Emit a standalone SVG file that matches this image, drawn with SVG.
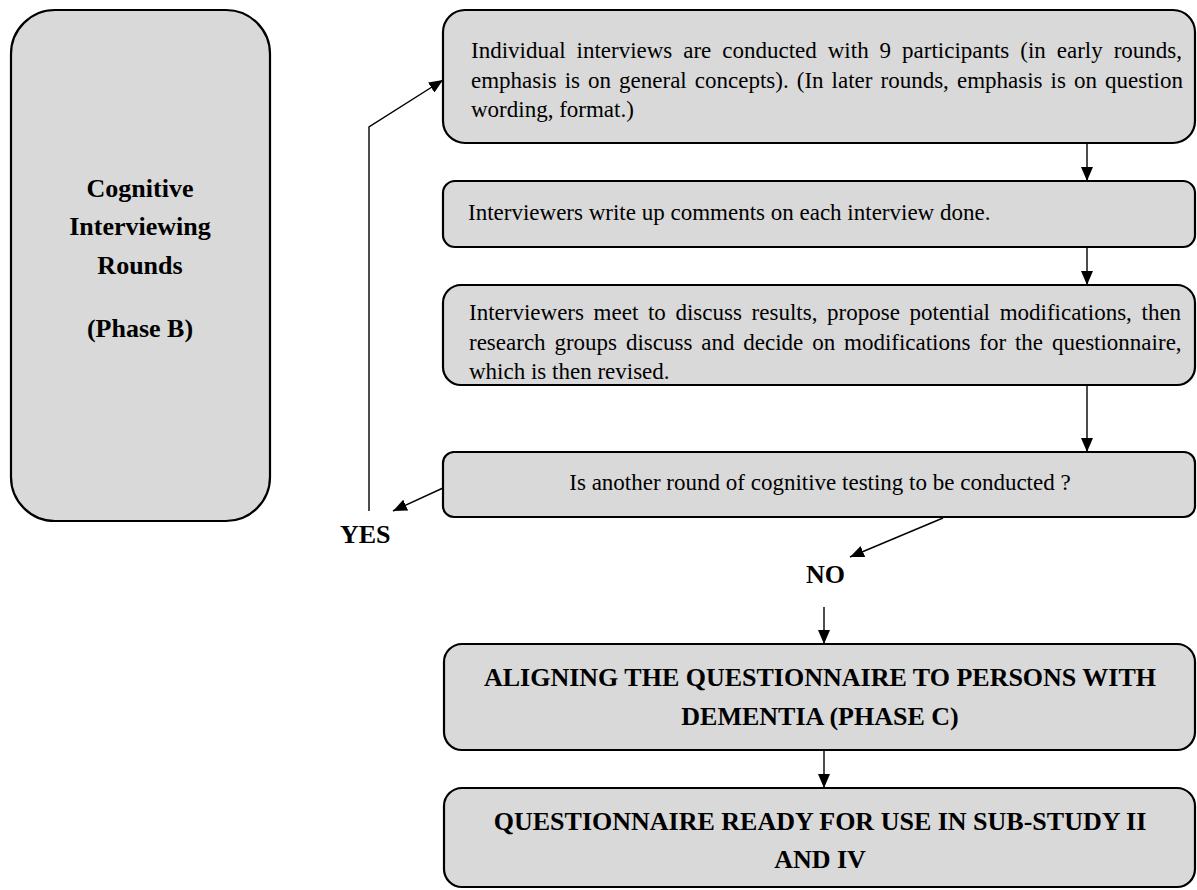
<svg xmlns="http://www.w3.org/2000/svg" width="1197" height="890" viewBox="0 0 1197 890">
<style>
.box{fill:#d9d9d9;stroke:#000;stroke-width:2.2}
.t{font-family:"Liberation Serif","Times New Roman",serif;font-size:23px;fill:#000}
.b{font-family:"Liberation Serif","Times New Roman",serif;font-size:26px;font-weight:bold;fill:#000}
.c{text-anchor:middle}
.ln{stroke:#000;stroke-width:1.4;fill:none}
</style>
<defs>
<marker id="ah" viewBox="0 0 14 12" refX="14" refY="6" markerWidth="14" markerHeight="12" orient="auto" markerUnits="userSpaceOnUse"><path d="M0,0 L14,6 L0,12 z" fill="#000"/></marker>
</defs>
<rect width="1197" height="890" fill="#fff"/>
<g id="phaseB">
<rect class="box" x="11" y="10" width="259" height="511" rx="44" ry="44"/>
<text class="b c" x="140" y="197">Cognitive</text>
<text class="b c" x="140" y="235">Interviewing</text>
<text class="b c" x="140" y="274">Rounds</text>
<text class="b c" x="140" y="337">(Phase B)</text>
</g>
<g id="interviews">
<rect class="box" x="443" y="10" width="752" height="133" rx="22" ry="22"/>
<text class="t" x="471" y="58" word-spacing="5.2">Individual interviews are conducted with 9 participants (in early rounds,</text>
<text class="t" x="471" y="88" word-spacing="2.3">emphasis is on general concepts). (In later rounds, emphasis is on question</text>
<text class="t" x="471" y="117">wording, format.)</text>
</g>
<g id="writeup">
<rect class="box" x="443" y="181" width="752" height="66" rx="12" ry="12"/>
<text class="t" x="468" y="220">Interviewers write up comments on each interview done.</text>
</g>
<g id="meet">
<rect class="box" x="443" y="285" width="752" height="100" rx="18" ry="18"/>
<text class="t" x="469" y="320" word-spacing="3.9">Interviewers meet to discuss results, propose potential modifications, then</text>
<text class="t" x="469" y="350" word-spacing="3.1">research groups discuss and decide on modifications for the questionnaire,</text>
<text class="t" x="469" y="379">which is then revised.</text>
</g>
<g id="decision">
<rect class="box" x="443" y="452" width="752" height="65" rx="11" ry="11"/>
<text class="t c" x="820" y="490">Is another round of cognitive testing to be conducted ?</text>
</g>
<g id="yes"><text class="b" x="340" y="543">YES</text></g>
<g id="no"><text class="b" x="806" y="583">NO</text></g>
<g id="phaseC">
<rect class="box" x="444" y="644" width="751" height="106" rx="18" ry="18"/>
<text class="b c" x="820" y="686">ALIGNING THE QUESTIONNAIRE TO PERSONS WITH</text>
<text class="b c" x="820" y="725">DEMENTIA (PHASE C)</text>
</g>
<g id="ready">
<rect class="box" x="444" y="788" width="751" height="99" rx="18" ry="18"/>
<text class="b c" x="820" y="830">QUESTIONNAIRE READY FOR USE IN SUB-STUDY II</text>
<text class="b c" x="820" y="868">AND IV</text>
</g>
<g id="connectors">
<line class="ln" x1="1087" y1="143" x2="1087" y2="181" marker-end="url(#ah)"/>
<line class="ln" x1="1087" y1="247" x2="1087" y2="285" marker-end="url(#ah)"/>
<line class="ln" x1="1087" y1="385" x2="1087" y2="452" marker-end="url(#ah)"/>
<line class="ln" x1="443" y1="488" x2="393" y2="511" marker-end="url(#ah)"/>
<polyline class="ln" points="369,511 369,127 443,80" marker-end="url(#ah)"/>
<line class="ln" x1="943" y1="518" x2="850" y2="557" marker-end="url(#ah)"/>
<line class="ln" x1="824" y1="607" x2="824" y2="644" marker-end="url(#ah)"/>
<line class="ln" x1="824" y1="750" x2="824" y2="788" marker-end="url(#ah)"/>
</g>
</svg>
